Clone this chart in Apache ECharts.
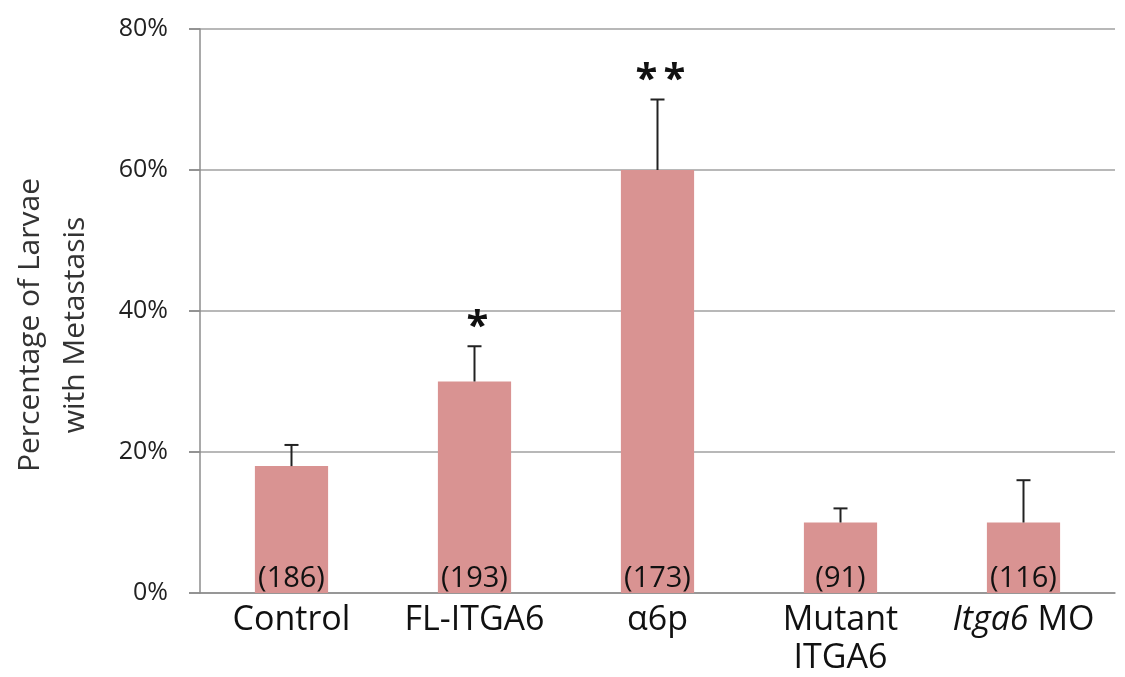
<!DOCTYPE html>
<html><head><meta charset="utf-8">
<script src="https://cdn.jsdelivr.net/npm/echarts@6/dist/echarts.min.js"></script>
<style>html,body{margin:0;padding:0;background:#fff}#c{width:1125px;height:677px}</style>
</head><body><div id="c"></div>
<script>
const categories = ['Control', 'FL-ITGA6', 'α6p', 'Mutant\nITGA6', '{i|Itga6} MO'];
const values = [18, 30, 60, 10, 10];
const errUpper = [21, 35, 70, 12, 16];
const counts = ['(186)', '(193)', '(173)', '(91)', '(116)'];
const marks = [0, 1, 2, 0, 0]; // number of asterisks
const yTicks = [0, 20, 40, 60, 80];

const FONT = '"Open Sans", "Noto Sans", sans-serif';
const chart = echarts.init(document.getElementById('c'));
chart.setOption({
  animation: false,
  grid: {left: 200, right: 10, top: 29, bottom: 84, containLabel: false, outerBoundsMode: 'none'},
  xAxis: {
    type: 'category', data: categories,
    axisLine: {lineStyle: {color: '#8c8c8c', width: 1.5}},
    axisTick: {show: false},
    axisLabel: {interval: 0, color: '#111', fontSize: 34, fontFamily: FONT, margin: 8, lineHeight: 38,
      rich: {i: {fontStyle: 'italic', fontSize: 34, fontFamily: FONT, color: '#111'}}}
  },
  yAxis: {
    type: 'value', min: 0, max: 80, interval: 20,
    name: 'Percentage of Larvae\nwith Metastasis', nameLocation: 'middle', nameGap: 102,
    nameTextStyle: {fontSize: 30, fontFamily: FONT, color: '#333', lineHeight: 45, padding: [0, 0, 0, -28]},
    axisLine: {show: true, lineStyle: {color: '#8c8c8c', width: 1.5}},
    axisTick: {show: true, inside: false, length: 11, lineStyle: {color: '#8c8c8c', width: 1.5}},
    splitLine: {show: true, lineStyle: {color: '#a0a0a0', width: 1.5}},
    axisLabel: {formatter: v => yTicks.includes(v) ? v + '%' : '', color: '#222', fontSize: 25, fontFamily: FONT, margin: 32}
  },
  series: [
    {
      type: 'bar', data: values, barWidth: '40%',
      itemStyle: {color: '#d99392'},
      label: {show: true, position: 'insideBottom', distance: 0, formatter: p => counts[p.dataIndex],
        fontSize: 29, fontFamily: FONT, color: '#111'}
    },
    {
      type: 'custom',
      data: values.map((v, i) => [i, v, errUpper[i]]),
      renderItem: function (params, api) {
        const i = api.value(0);
        const base = api.coord([i, api.value(1)]);
        const top = api.coord([i, api.value(2)]);
        const hw = 7;
        const children = [
          {type: 'line', shape: {x1: base[0], y1: base[1], x2: top[0], y2: top[1]}, style: {stroke: '#222', lineWidth: 2}},
          {type: 'line', shape: {x1: top[0] - hw, y1: top[1], x2: top[0] + hw, y2: top[1]}, style: {stroke: '#222', lineWidth: 2}}
        ];
        const n = marks[params.dataIndex];
        const gap = 28;
        for (let k = 0; k < n; k++) {
          const dx = (k - (n - 1) / 2) * gap + 3;
          children.push({type: 'text', style: {text: '*', x: top[0] + dx, y: top[1] + 1,
            align: 'center', verticalAlign: 'bottom', fontSize: 40, fontWeight: 'bold', fontFamily: FONT, fill: '#111'}});
        }
        return {type: 'group', children};
      },
      z: 5
    },
    {
      // outer tick marks on the value axis
      type: 'custom', silent: true, clip: false,
      data: yTicks.map(v => [0, v]),
      renderItem: function (params, api) {
        const p = api.coord([0, api.value(1)]);
        const x0 = params.coordSys.x;
        return {type: 'line', shape: {x1: x0 - 11, y1: p[1], x2: x0, y2: p[1]}, style: {stroke: '#8c8c8c', lineWidth: 1.5}};
      }
    }
  ]
});
</script></body></html>
